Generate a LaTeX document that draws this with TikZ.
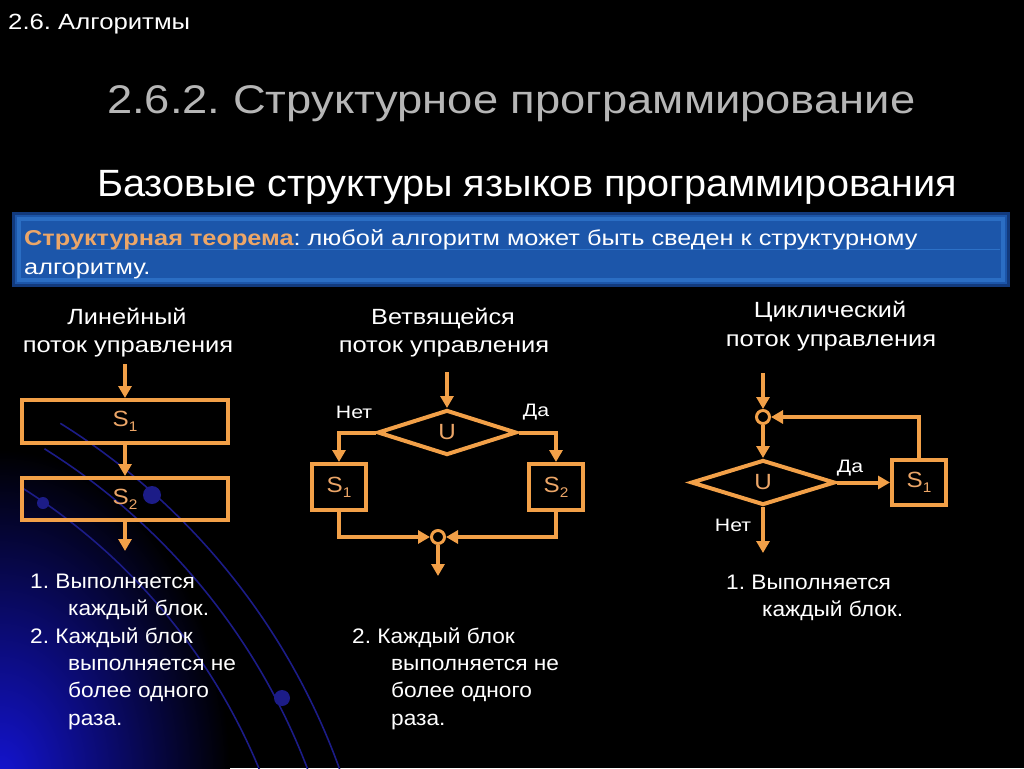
\documentclass[tikz,border=0pt]{standalone}
\usepackage{fontspec}
\usepackage{graphicx}
\setmainfont{Liberation Sans}
\usetikzlibrary{shapes.geometric,arrows.meta}
\definecolor{org}{RGB}{242,160,72}
\definecolor{orgtxt}{RGB}{236,166,104}
\definecolor{ttlgray}{RGB}{182,182,182}
\definecolor{bannerblue}{RGB}{28,86,170}
\definecolor{bannerglow}{RGB}{62,140,228}
\definecolor{bannerdark}{RGB}{18,58,125}
\definecolor{arcblue}{RGB}{28,28,135}
\definecolor{glowblue}{RGB}{20,20,210}
\newcommand{\fs}[1]{\fontsize{#1}{#1}\selectfont}
\newcommand{\subidx}[1]{\raisebox{-0.4ex}{\fs{14}#1}}
\newcommand{\wfit}[2]{\resizebox{#1}{\height}{#2}}
\newcommand{\sx}[2]{\scalebox{#1}[1]{#2}}
\frenchspacing
\begin{document}
\begin{tikzpicture}[x=1pt,y=-1pt,
  line/.style={draw=org,line width=4pt},
  arr/.style={draw=org,line width=4pt,-{Triangle[length=12pt,width=13pt]}},
  blk/.style={draw=org,line width=4pt,rectangle,inner sep=0pt,text=orgtxt,font=\fs{22}},
  dec/.style={draw=org,line width=4pt,diamond,aspect=2.9,inner sep=0pt,text=orgtxt,font=\fs{22}},
  jn/.style={draw=org,line width=3pt,circle,inner sep=0pt,minimum size=13pt},
  hdr/.style={text=white,font=\fs{22},anchor=base,inner sep=0pt},
  lbl/.style={text=white,font=\fs{18},inner sep=0pt},
  lst/.style={text=white,font=\fs{21},anchor=base west,inner sep=0pt},
]
% background
\fill[black] (0,0) rectangle (1024,768);
\useasboundingbox (0,0) rectangle (1024,768);
\begin{scope}
\clip (0,0) rectangle (1024,768);
\shade[inner color=glowblue, outer color=black] (0,780) ellipse [x radius=230, y radius=330];
\foreach \r in {605,650,680} {
  \draw[arcblue,line width=1.6pt] (-300,1000) ++(-58:\r) arc[start angle=-58,end angle=-12,radius=\r];
}
\fill[arcblue] (43,503) circle (6);
\fill[arcblue] (152,495) circle (9);
\fill[arcblue] (282,698) circle (8);
\end{scope}

% titles
\node[anchor=base west,inner sep=0pt,text=white,font=\fs{22}] (sec) at (8,30) {\wfit{182pt}{2.6. Алгоритмы}};
\node[anchor=base west,inner sep=0pt,text=ttlgray,font=\fs{40}] (ttl) at (107,113) {\wfit{808pt}{2.6.2. Структурное программирование}};
\node[anchor=base west,inner sep=0pt,text=white,font=\fs{38}] (sub) at (97,196) {\wfit{860pt}{Базовые структуры языков программирования}};

% banner
\fill[bannerdark] (12,212) rectangle (1010,287);
\fill[bannerblue] (15,215) rectangle (1007,284);
\draw[bannerglow,line width=4pt,opacity=0.45] (19,219) rectangle (1003,280);
\draw[bannerglow,line width=1pt,opacity=0.5] (60,249) -- (1000,249);
\node[anchor=base west,inner sep=0pt,text=white,font=\fs{21.5}] (thm1) at (24,245)
  {\sx{1.177}{\textcolor{orgtxt}{\bfseries Структурная теорема}: любой алгоритм может быть сведен к структурному}};
\node[anchor=base west,inner sep=0pt,text=white,font=\fs{21.5}] (thm2) at (24,274) {\sx{1.177}{алгоритму.}};

% column headers
\node[hdr] (h1a) at (127,324) {\sx{1.15}{Линейный}};
\node[hdr] (h1b) at (128,352) {\sx{1.16}{поток управления}};
\node[hdr] (h2a) at (443,324) {\sx{1.15}{Ветвящейся}};
\node[hdr] (h2b) at (444,352) {\sx{1.16}{поток управления}};
\node[hdr] (h3a) at (830,317) {\sx{1.15}{Циклический}};
\node[hdr] (h3b) at (831,346) {\sx{1.16}{поток управления}};

% linear
\coordinate (lin) at (125,364);
\node[blk,minimum width=206pt,minimum height=43pt] (ls1) at (125,421.5) {\sx{1.1}{S\subidx{1}}};
\node[blk,minimum width=206pt,minimum height=42pt] (ls2) at (125,499) {\sx{1.1}{S\subidx{2}}};
\coordinate (lout) at (125,551);
\draw[arr] (lin) -- (ls1.north);
\draw[arr] (ls1.south) -- (ls2.north);
\draw[arr] (ls2.south) -- (lout);

% branching
\coordinate (min) at (447,372);
\node[dec,minimum width=139pt,minimum height=45pt] (mu) at (447,432.5) {\sx{1.1}{U}};
\node[blk,minimum width=54pt,minimum height=46pt] (ms1) at (339,487) {\sx{1.1}{S\subidx{1}}};
\node[blk,minimum width=54pt,minimum height=46pt] (ms2) at (556,487) {\sx{1.1}{S\subidx{2}}};
\node[jn] (mj) at (438,537) {};
\coordinate (mout) at (438,576);
\draw[arr] (min) -- (mu.north);
\draw[arr] (mu.west) -| (ms1.north);
\draw[arr] (mu.east) -| (ms2.north);
\draw[arr] (ms1.south) |- (mj.west);
\draw[arr] (ms2.south) |- (mj.east);
\draw[arr] (mj.south) -- (mout);
\node[lbl] (mno) at (354,412) {\sx{1.18}{Нет}};
\node[lbl] (myes) at (536,412) {\sx{1.18}{Да}};

% loop
\coordinate (rin) at (763,373);
\node[jn] (rj) at (763,417) {};
\node[dec,minimum width=144pt,minimum height=45pt] (ru) at (763,482.5) {\sx{1.1}{U}};
\node[blk,minimum width=54pt,minimum height=45pt] (rs1) at (919,482.5) {\sx{1.1}{S\subidx{1}}};
\coordinate (rout) at (763,553);
\draw[arr] (rin) -- (rj.north);
\draw[arr] (rj.south) -- (ru.north);
\draw[arr] (ru.east) -- (rs1.west);
\draw[arr] (rs1.north) |- (rj.east);
\draw[arr] (ru.south) -- (rout);
\node[lbl] (ryes) at (850,468) {\sx{1.18}{Да}};
\node[lbl] (rno) at (733,525) {\sx{1.18}{Нет}};

% lists
\node[lst] (l1) at (30,588) {\sx{1.08}{1. Выполняется}};
\node[lst] (l2) at (68,615) {\sx{1.08}{каждый блок.}};
\node[lst] (l3) at (30,643) {\sx{1.08}{2. Каждый блок}};
\node[lst] (l4) at (68,670) {\sx{1.08}{выполняется не}};
\node[lst] (l5) at (68,697) {\sx{1.08}{более одного}};
\node[lst] (l6) at (68,725) {\sx{1.08}{раза.}};
\node[lst] (m1) at (352,643) {\sx{1.08}{2. Каждый блок}};
\node[lst] (m2) at (391,670) {\sx{1.08}{выполняется не}};
\node[lst] (m3) at (391,697) {\sx{1.08}{более одного}};
\node[lst] (m4) at (391,725) {\sx{1.08}{раза.}};
\node[lst] (r1) at (726,589) {\sx{1.08}{1. Выполняется}};
\node[lst] (r2) at (762,616) {\sx{1.08}{каждый блок.}};
\end{tikzpicture}
\end{document}
